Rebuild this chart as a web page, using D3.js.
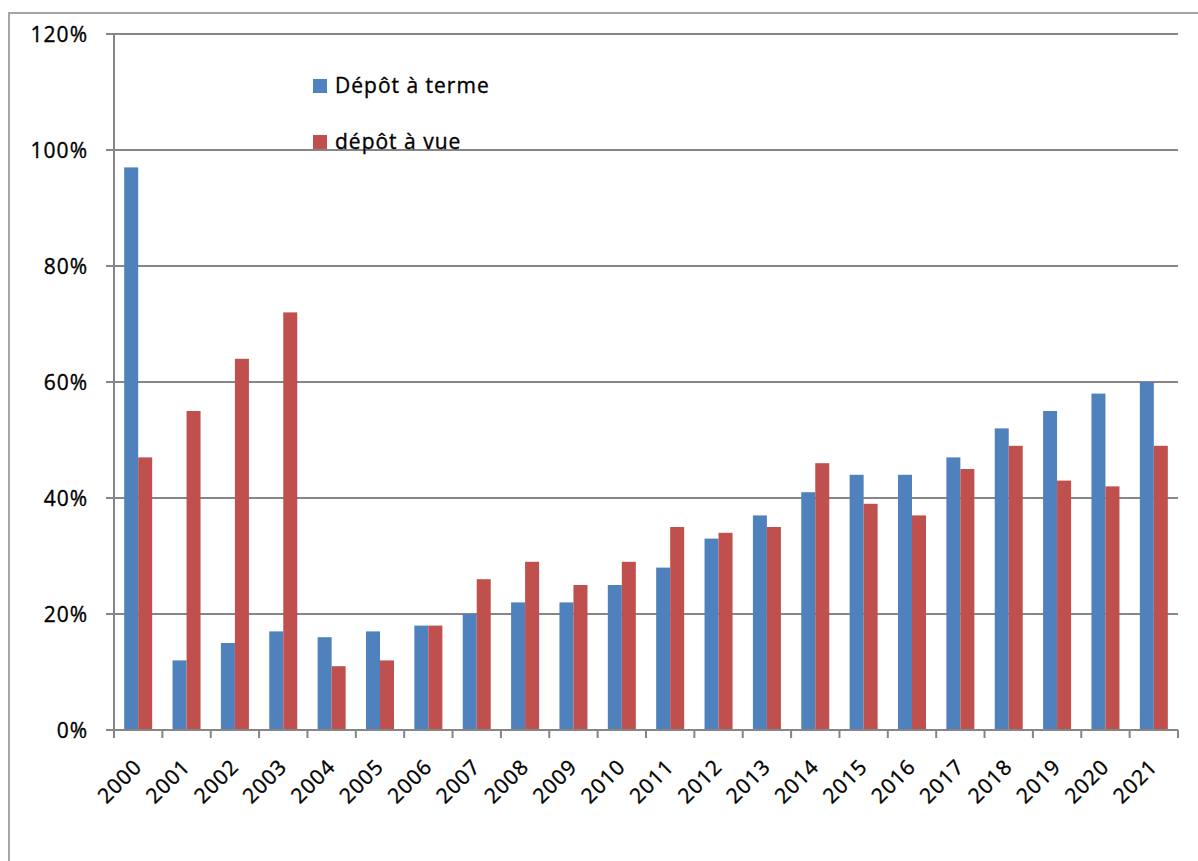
<!DOCTYPE html>
<html>
<head>
<meta charset="utf-8">
<script src="https://cdn.jsdelivr.net/npm/d3@7"></script>
<style>
  html, body { margin: 0; padding: 0; background: #fff; }
  svg text { font-family: "Open Sans", sans-serif; font-size: 21px; letter-spacing: 1px; fill: #000; stroke: #000; stroke-width: 0.35px; }
</style>
</head>
<body>
<svg id="chart" width="1198" height="861"></svg>
<script>
const years = ["2000","2001","2002","2003","2004","2005","2006","2007","2008","2009","2010","2011","2012","2013","2014","2015","2016","2017","2018","2019","2020","2021"];
const depotTerme = [97,12,15,17,16,17,18,20,22,22,25,28,33,37,41,44,44,47,52,55,58,60];
const depotVue   = [47,55,64,72,11,12,18,26,29,25,29,35,34,35,46,39,37,45,49,43,42,49];
const seriesNames = ["Dépôt à terme", "dépôt à vue"];
const seriesColors = ["#4F81BD", "#C0504D"];
const yTicks = [0,20,40,60,80,100,120];

const svg = d3.select("#chart");
const pLeft = 114, pRight = 1178, pTop = 34, pBottom = 730;

// outer border
svg.append("rect").attr("x", 9).attr("y", 13).attr("width", 1300).attr("height", 1000)
  .attr("fill", "none").attr("stroke", "#a6a6a6").attr("stroke-width", 2);

const x = d3.scaleBand().domain(years).range([pLeft, pRight]).paddingInner(0.421).paddingOuter(0.2105);
const xs = d3.scaleBand().domain([0,1]).range([0, x.bandwidth()]);
const y = d3.scaleLinear().domain([0,120]).range([pBottom, pTop]);

// gridlines
svg.append("g").selectAll("line").data(yTicks).join("line")
  .attr("x1", pLeft - 8).attr("x2", pRight)
  .attr("y1", d => y(d)).attr("y2", d => y(d))
  .attr("stroke", "#868686").attr("stroke-width", 2);

// y labels
svg.append("g").selectAll("text").data(yTicks).join("text")
  .attr("x", 88).attr("y", d => y(d)).attr("dy", "0.36em")
  .attr("text-anchor", "end").text(d => d + "%");

// bars
const data = [depotTerme, depotVue];
data.forEach((vals, si) => {
  svg.append("g").selectAll("rect").data(vals).join("rect")
    .attr("x", (d, i) => x(years[i]) + xs(si))
    .attr("width", xs.bandwidth())
    .attr("y", d => y(d))
    .attr("height", d => y(0) - y(d))
    .attr("fill", seriesColors[si]);
});

// axes lines
svg.append("line").attr("x1", pLeft).attr("x2", pLeft).attr("y1", pTop).attr("y2", pBottom + 8)
  .attr("stroke", "#868686").attr("stroke-width", 2);
svg.append("line").attr("x1", pLeft - 8).attr("x2", pRight).attr("y1", pBottom).attr("y2", pBottom)
  .attr("stroke", "#868686").attr("stroke-width", 2);

// category ticks at band boundaries
const step = x.step();
const bounds = d3.range(years.length + 1).map(i => pLeft + i * step);
svg.append("g").selectAll("line").data(bounds).join("line")
  .attr("x1", d => d).attr("x2", d => d).attr("y1", pBottom).attr("y2", pBottom + 8)
  .attr("stroke", "#868686").attr("stroke-width", 2);

// x labels
svg.append("g").selectAll("text").data(years).join("text")
  .attr("text-anchor", "end")
  .attr("transform", d => `translate(${x(d) + x.bandwidth()/2 + 5},${pBottom + 38}) rotate(-45)`)
  .text(d => d);

// legend
const lg = svg.append("g");
seriesNames.forEach((name, i) => {
  const yy = 79 + i * 56;
  lg.append("rect").attr("x", 313).attr("y", yy).attr("width", 14).attr("height", 14).attr("fill", seriesColors[i]);
  lg.append("text").attr("x", 335).attr("y", yy + 14).text(name);
});
</script>
</body>
</html>
